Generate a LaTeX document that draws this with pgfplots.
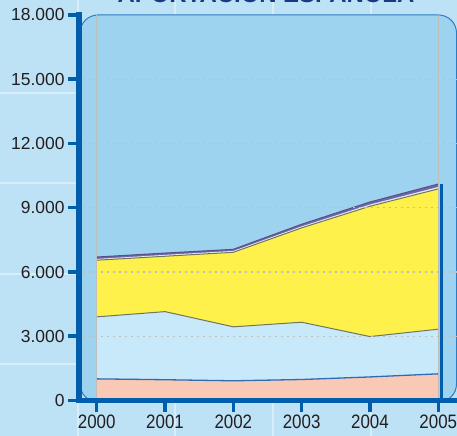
\documentclass[border=0pt]{standalone}
\usepackage{pgfplots}
\pgfplotsset{compat=1.18}
\usepackage{pgfplotstable}
\usepackage{fontspec}
\setmainfont{Liberation Sans}
\newfontfamily\xfont[FakeStretch=0.87]{Liberation Sans}
\definecolor{bgout}{RGB}{189,225,245}
\definecolor{bgplot}{RGB}{158,211,240}
\definecolor{axblue}{RGB}{0,94,172}
\definecolor{rectline}{RGB}{45,124,193}
\definecolor{pinkc}{RGB}{250,201,182}
\definecolor{lblue}{RGB}{199,233,249}
\definecolor{yel}{RGB}{255,241,76}
\definecolor{purp}{RGB}{112,100,170}
\definecolor{whiteb}{RGB}{225,240,238}
\definecolor{olive}{RGB}{110,118,95}
\definecolor{pinkline}{RGB}{46,108,182}
\definecolor{grayv}{RGB}{190,190,190}
\definecolor{txt}{RGB}{35,31,32}
\definecolor{titlec}{RGB}{20,60,130}
\pgfplotstableread{
year P L Y W T
2000 1010 3905 6550 6610 6700
2001 970 4150 6735 6800 6885
2002 920 3440 6920 6985 7060
2003 980 3655 8060 8130 8230
2004 1100 2985 9070 9150 9270
2005 1245 3330 9880 9970 10110
}\datatable
\pgfplotstableread{
x g3 g6 g9 g12 g15
1999.80 3000 6000 9000 12000 15000
2005.274 3000 6000 9000 12000 15000
}\gridtable
\begin{document}
\begin{tikzpicture}
\useasboundingbox (0bp,0bp) rectangle (457bp,436bp);
\clip (0bp,0bp) rectangle (457bp,436bp);
\fill[bgout] (0bp,0bp) rectangle (457bp,436bp);
\foreach \xx in {78,175,273,371} \draw[white, opacity=0.4, line width=1.2bp] (\xx bp,0bp)--(\xx bp,436bp);
\foreach \yy in {72,162,253,343} \draw[white, opacity=0.4, line width=1.2bp] (0bp,\yy bp)--(457bp,\yy bp);
\node[anchor=base, font=\bfseries\fontsize{24}{24}\selectfont, text=titlec, inner sep=0pt] at (266bp,433bp) {APORTACIÓN ESPAÑOLA};
\draw[rectline, fill=bgplot, line width=1bp, rounded corners=18bp] (80bp,34bp) rectangle (456.5bp,421bp);
\begin{axis}[
  at={(79bp,35.5bp)}, anchor=south west, scale only axis,
  width=378bp, height=385.5bp,
  xmin=1999.741, xmax=2005.274, ymin=0, ymax=18000,
  axis lines=left,
  axis line style={draw=axblue, line width=5bp, line cap=rect},
  every outer x axis line/.append style={-},
  every outer y axis line/.append style={-},
  xtick={2000,2001,2002,2003,2004,2005},
  xticklabels={2000,2001,2002,2003,2004,2005},
  ytick={0,3000,6000,9000,12000,15000,18000},
  scaled y ticks=false,
  tick align=outside,
  major tick length=11bp,
  tick style={draw=axblue, line width=3.5bp},
  yticklabel style={font=\fontsize{17.5}{17.5}\selectfont, text=txt},
  xticklabel style={font=\xfont\fontsize{19.5}{19.5}\selectfont, text=txt},
  /pgf/number format/.cd, 1000 sep={.}, assume math mode=true,
  /pgfplots/.cd,
  axis on top,
]
\addplot[fill=purp, draw=none] table[x=year,y=T] {\datatable} \closedcycle;
\addplot[fill=whiteb, draw=none] table[x=year,y=W] {\datatable} \closedcycle;
\addplot[fill=yel, draw=none] table[x=year,y=Y] {\datatable} \closedcycle;
\addplot[fill=lblue, draw=none] table[x=year,y=L] {\datatable} \closedcycle;
\addplot[fill=pinkc, draw=none] table[x=year,y=P] {\datatable} \closedcycle;
\addplot[olive, line width=1bp] table[x=year,y=Y] {\datatable};
\addplot[olive, line width=1bp] table[x=year,y=L] {\datatable};
\addplot[pinkline, line width=1.3bp] table[x=year,y=P] {\datatable};
\addplot[purp!80!black, line width=1bp] table[x=year,y=T] {\datatable};
\addplot[grayv, line width=1.5bp] coordinates {(2000,0) (2000,18000)};
\addplot[grayv, line width=1.5bp] coordinates {(2005,0) (2005,18000)};
\addplot[axblue, line width=3bp] coordinates {(2005.04,0) (2005.04,10110)};
\foreach \g in {g3,g6,g9,g12,g15} {
  \addplot[grayv, dash pattern=on 1.5bp off 4.5bp, line width=1.2bp] table[x=x,y=\g] {\gridtable};
}
\end{axis}
\end{tikzpicture}
\end{document}
